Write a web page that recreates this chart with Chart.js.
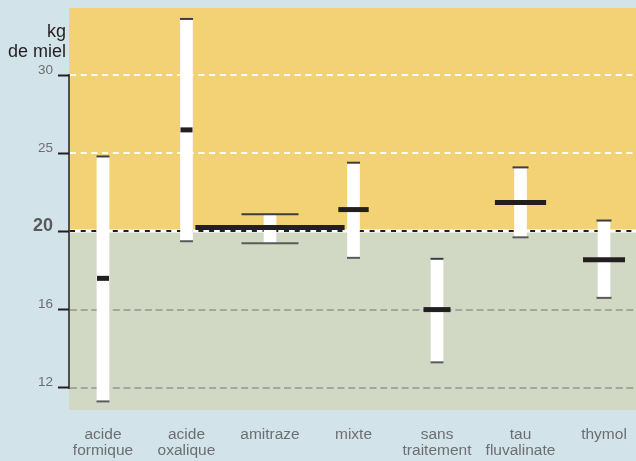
<!DOCTYPE html>
<html>
<head>
<meta charset="utf-8">
<script src="https://cdn.jsdelivr.net/npm/chart.js@4.4.1/dist/chart.umd.min.js"></script>
<style>
html,body{margin:0;padding:0;background:#d3e3ea;}
#wrap{width:636px;height:461px;position:relative;}
</style>
</head>
<body>
<div id="wrap"><canvas id="c" width="636" height="461"></canvas></div>
<script>
// ---- data ----
const categories = [["acide","formique"],["acide","oxalique"],["amitraze"],["mixte"],["sans","traitement"],["tau","fluvalinate"],["thymol"]];
const lowValues    = [11.3, 19.5, 19.4, 18.65, 13.3, 19.7, 16.6];
const highValues   = [24.8, 33.6, 21.1, 24.4, 18.6, 24.1, 20.7];
const medianValues = [17.6, 26.5, 20.25, 21.4, 16.0, 21.85, 18.55];
const tickValues   = [12, 16, 20, 25, 30];
const threshold    = 20;
const yTitle       = ["kg", "de miel"];
const yRange       = [10.86, 34.3];

// the original axis spaces its tick values evenly (piecewise-linear)
function toAxis(v) {
  const t = tickValues;
  let k = 0;
  while (k < t.length - 2 && v > t[k + 1]) k++;
  return k + (v - t[k]) / (t[k + 1] - t[k]);
}

const FONT = '"Liberation Sans", Arial, sans-serif';

const plotPlugin = {
  id: 'plotDecor',
  beforeDraw(chart) {
    const {ctx, chartArea: {left, right, top, bottom}, scales: {y}} = chart;
    ctx.save();
    ctx.fillStyle = '#d3e3ea';
    ctx.fillRect(0, 0, chart.width, chart.height);
    const yT = Math.round(y.getPixelForValue(toAxis(threshold)));
    ctx.fillStyle = '#f3d276';
    ctx.fillRect(left, top, right - left, yT - top);
    ctx.fillStyle = '#d1d9c4';
    ctx.fillRect(left, yT, right - left, bottom - yT);
    ctx.restore();
  },
  beforeDatasetsDraw(chart) {
    const {ctx, chartArea: {left, right}, scales: {y}} = chart;
    ctx.save();
    tickValues.forEach(v => {
      const py = Math.round(y.getPixelForValue(toAxis(v)));
      ctx.beginPath();
      ctx.moveTo(left + 1, py);
      ctx.lineTo(right, py);
      if (v === threshold) {
        ctx.setLineDash([]);
        ctx.strokeStyle = '#ffffff';
        ctx.lineWidth = 3;
        ctx.stroke();
        ctx.setLineDash([5, 5.7]);
        ctx.strokeStyle = '#231f20';
        ctx.lineWidth = 2;
        ctx.stroke();
      } else if (v > threshold) {
        ctx.setLineDash([6, 4.7]);
        ctx.strokeStyle = '#ffffff';
        ctx.lineWidth = 2;
        ctx.stroke();
      } else {
        ctx.setLineDash([7, 3.7]);
        ctx.strokeStyle = '#a3a69e';
        ctx.lineWidth = 2;
        ctx.stroke();
      }
    });
    // axis line between first and last tick
    ctx.setLineDash([]);
    ctx.strokeStyle = '#231f20';
    ctx.lineWidth = 1.5;
    ctx.beginPath();
    ctx.moveTo(left, Math.round(y.getPixelForValue(toAxis(tickValues[tickValues.length - 1]))) - 1);
    ctx.lineTo(left, Math.round(y.getPixelForValue(toAxis(tickValues[0]))) + 1);
    ctx.stroke();
    ctx.restore();
  },
  afterDraw(chart) {
    const {ctx, chartArea: {left, top}} = chart;
    ctx.save();
    ctx.fillStyle = '#231f20';
    ctx.font = '18px ' + FONT;
    ctx.textAlign = 'right';
    ctx.textBaseline = 'alphabetic';
    ctx.fillText(yTitle[0], left - 3, top + 29);
    ctx.fillText(yTitle[1], left - 3, top + 49);
    ctx.restore();
  }
};

const barData = categories.map((c, i) => ({x: i, y: [toAxis(lowValues[i]), toAxis(highValues[i])]}));
const capData = [];
categories.forEach((c, i) => {
  capData.push({x: i, y: toAxis(highValues[i])});
  capData.push({x: i, y: toAxis(lowValues[i])});
});
const medianData = categories.map((c, i) => ({x: i, y: toAxis(medianValues[i])}));

new Chart(document.getElementById('c'), {
  type: 'bar',
  data: {
    datasets: [
      {
        type: 'scatter',
        data: medianData,
        pointStyle: 'line',
        pointRadius: [6, 6, 74.6, 15.2, 13.5, 25.6, 21],
        pointBorderWidth: 5,
        pointBorderColor: '#231f20',
        borderColor: '#231f20',
        order: 1
      },
      {
        type: 'scatter',
        data: capData,
        pointStyle: 'line',
        pointRadius: [6.5, 6.5, 6.5, 6.5, 28.5, 28.5, 6.5, 6.5, 6.5, 6.5, 8, 8, 7.5, 7.5],
        pointBorderWidth: 2,
        pointBorderColor: ['#3d3d3d', '#5a5a5a', '#3d3d3d', '#5a5a5a', '#3d3d3d', '#5a5a5a', '#3d3d3d', '#5a5a5a', '#3d3d3d', '#5a5a5a', '#3d3d3d', '#5a5a5a', '#3d3d3d', '#5a5a5a'],
        borderColor: '#3d3d3d',
        order: 2
      },
      {
        type: 'bar',
        data: barData,
        backgroundColor: '#ffffff',
        borderWidth: 0,
        barThickness: 12,
        order: 3
      }
    ]
  },
  options: {
    responsive: false,
    animation: false,
    events: [],
    layout: {autoPadding: false, padding: {top: 8, left: 0, right: 0, bottom: 0}},
    plugins: {legend: {display: false}, tooltip: {enabled: false}, title: {display: false}},
    scales: {
      x: {
        type: 'linear',
        offset: false,
        min: -0.407,
        max: 6.383,
        afterBuildTicks: s => { s.ticks = categories.map((c, i) => ({value: i})); },
        afterFit: s => { s.height = 51; s.paddingLeft = 0; s.paddingRight = 0; },
        grid: {display: false},
        border: {display: false},
        ticks: {
          autoSkip: false,
          maxRotation: 0,
          padding: 8,
          color: '#6d6e71',
          font: {family: FONT, size: 15.5, lineHeight: 1.08},
          callback: (v, i) => categories[i]
        }
      },
      y: {
        type: 'linear',
        min: toAxis(yRange[0]),
        max: toAxis(yRange[1]),
        afterBuildTicks: s => { s.ticks = tickValues.map(v => ({value: toAxis(v)})); },
        afterFit: s => { s.width = 69; s.paddingTop = 0; s.paddingBottom = 0; },
        border: {display: false},
        grid: {drawOnChartArea: false, drawTicks: true, tickLength: 11, tickWidth: 2, tickColor: '#231f20', color: '#231f20'},
        ticks: {
          padding: 5,
          labelOffset: -5,
          color: ctx => tickValues[ctx.index] === threshold ? '#58595b' : '#6d6e71',
          font: ctx => tickValues[ctx.index] === threshold
            ? {family: FONT, size: 18, weight: 'bold'}
            : {family: FONT, size: 13.5},
          callback: (v, i) => String(tickValues[i])
        }
      }
    }
  },
  plugins: [plotPlugin]
});
</script>
</body>
</html>
